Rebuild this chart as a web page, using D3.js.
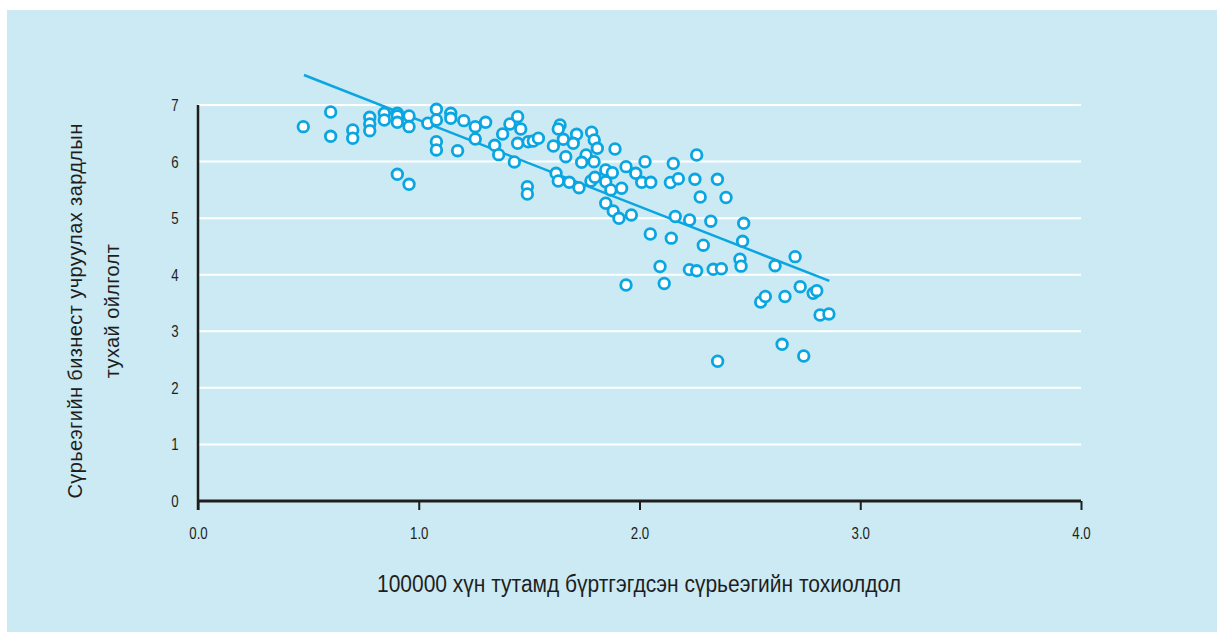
<!DOCTYPE html>
<html>
<head>
<meta charset="utf-8">
<script src="https://cdn.jsdelivr.net/npm/d3@7"></script>
<style>
  body { margin: 0; background: #ffffff; }
  #chart svg { display: block; }
</style>
</head>
<body>
<div id="chart"></div>
<script>
// Scatter values
var casesPer100k = [
    0.477, 0.601, 0.601, 0.701, 0.701, 0.778, 0.778, 0.778, 0.844, 0.844,
    0.903, 0.903, 0.903, 0.956, 0.956, 0.903, 0.956, 1.041, 1.080, 1.080,
    1.080, 1.080, 1.145, 1.145, 1.176, 1.204, 1.256, 1.256, 1.303, 1.344,
    1.362, 1.380, 1.413, 1.448, 1.462, 1.448, 1.433, 1.492, 1.492, 1.496,
    1.519, 1.542, 1.610, 1.640, 1.632, 1.655, 1.715, 1.700, 1.783, 1.795,
    1.809, 1.666, 1.758, 1.738, 1.794, 1.889, 1.622, 1.632, 1.682, 1.726,
    1.780, 1.798, 1.847, 1.877, 1.847, 1.870, 1.919, 1.939, 1.983, 2.010,
    2.051, 2.025, 1.847, 1.881, 1.907, 1.963, 2.049, 1.939, 2.093, 2.112,
    2.144, 2.153, 2.140, 2.176, 2.259, 2.251, 2.353, 2.275, 2.392, 2.162,
    2.227, 2.323, 2.472, 2.467, 2.289, 2.226, 2.259, 2.334, 2.371, 2.455,
    2.460, 2.614, 2.705, 2.549, 2.570, 2.659, 2.728, 2.787, 2.803, 2.818,
    2.858, 2.646, 2.744, 2.354
];
var businessCost = [
    6.617, 6.876, 6.447, 6.558, 6.412, 6.783, 6.664, 6.546, 6.853, 6.735,
    6.853, 6.806, 6.694, 6.806, 6.617, 5.775, 5.598, 6.677, 6.924, 6.735,
    6.351, 6.205, 6.853, 6.765, 6.192, 6.723, 6.617, 6.399, 6.694, 6.288,
    6.122, 6.488, 6.664, 6.793, 6.576, 6.323, 5.993, 5.556, 5.427, 6.351,
    6.364, 6.412, 6.275, 6.647, 6.576, 6.394, 6.482, 6.323, 6.518, 6.382,
    6.235, 6.086, 6.116, 5.987, 5.998, 6.222, 5.793, 5.657, 5.634, 5.538,
    5.657, 5.722, 5.851, 5.803, 5.644, 5.498, 5.528, 5.910, 5.793, 5.634,
    5.634, 5.998, 5.263, 5.126, 4.997, 5.056, 4.720, 3.818, 4.145, 3.845,
    4.646, 5.966, 5.630, 5.697, 6.116, 5.687, 5.687, 5.374, 5.365, 5.029,
    4.967, 4.946, 4.909, 4.591, 4.522, 4.090, 4.069, 4.096, 4.105, 4.273,
    4.151, 4.159, 4.319, 3.518, 3.615, 3.615, 3.788, 3.672, 3.718, 3.288,
    3.306, 2.770, 2.563, 2.470
];

// trend line end points
var trendX = [0.48, 2.86];
var trendY = [7.53, 3.89];

var xTickValues = [0, 1, 2, 3, 4];
var yTickValues = [0, 1, 2, 3, 4, 5, 6, 7];

var xTitle = "100000 хүн тутамд бүртгэгдсэн сүрьеэгийн тохиолдол";
var yTitleLines = ["Сүрьеэгийн бизнест учруулах зардлын", "тухай ойлголт"];

function init() {

    var w = 1217;
    var h = 632;

    var blue = "#0aa6e2";
    var ink = "#1e1e1e";
    var narrow = "'Liberation Sans', Arial, sans-serif";
    var squeeze = 0.78;

    var svg = d3.select("#chart")
        .append("svg")
        .attr("width", w)
        .attr("height", h);

    // panel background
    svg.append("rect")
        .attr("x", 7)
        .attr("y", 10)
        .attr("width", w - 7)
        .attr("height", h - 10)
        .attr("fill", "#cbeaf3");

    var xScale = d3.scaleLinear().domain([0, 4]).range([198, 1081]);
    var yScale = d3.scaleLinear().domain([0, 7]).range([501, 105]);

    // white gridlines
    svg.selectAll("line.grid")
        .data(yTickValues.slice(1))
        .enter()
        .append("line")
        .attr("class", "grid")
        .attr("x1", xScale(0))
        .attr("x2", xScale(4))
        .attr("y1", function (d) { return yScale(d); })
        .attr("y2", function (d) { return yScale(d); })
        .attr("stroke", "#ffffff")
        .attr("stroke-width", 2);

    // x axis
    var xAxis = d3.axisBottom(xScale)
        .tickValues(xTickValues)
        .tickSize(9)
        .tickPadding(17)
        .tickFormat(d3.format(".1f"));

    var gx = svg.append("g")
        .attr("transform", "translate(0," + yScale(0) + ")")
        .call(xAxis);
    gx.select(".domain").attr("stroke", ink).attr("stroke-width", 3)
        .attr("d", "M" + xScale(0) + ",0H" + xScale(4));
    gx.selectAll(".tick line").attr("stroke", ink).attr("stroke-width", 2);
    gx.selectAll(".tick text")
        .attr("fill", ink)
        .attr("transform", "scale(" + squeeze + ",1)")
        .style("font-family", narrow)
        .style("font-size", "17px");

    // y axis
    var yAxis = d3.axisLeft(yScale)
        .tickValues(yTickValues)
        .tickSize(0)
        .tickPadding(24)
        .tickFormat(d3.format("d"));

    var gy = svg.append("g")
        .attr("transform", "translate(" + xScale(0) + ",0)")
        .call(yAxis);
    gy.select(".domain").attr("stroke", ink).attr("stroke-width", 2.5)
        .attr("d", "M0," + yScale(7) + "V" + (yScale(0) + 9));
    gy.selectAll(".tick text")
        .attr("fill", ink)
        .attr("text-anchor", "middle")
        .attr("x", -23 / squeeze)
        .attr("transform", "scale(" + squeeze + ",1)")
        .style("font-family", narrow)
        .style("font-size", "17px");

    // trend line
    svg.append("line")
        .attr("x1", xScale(trendX[0]))
        .attr("y1", yScale(trendY[0]))
        .attr("x2", xScale(trendX[1]))
        .attr("y2", yScale(trendY[1]))
        .attr("stroke", blue)
        .attr("stroke-width", 2.5);

    // points
    svg.selectAll("circle.pt")
        .data(casesPer100k)
        .enter()
        .append("circle")
        .attr("class", "pt")
        .attr("cx", function (d) { return xScale(d); })
        .attr("cy", function (d, i) { return yScale(businessCost[i]); })
        .attr("r", 5.3)
        .attr("fill", "#ffffff")
        .attr("stroke", blue)
        .attr("stroke-width", 2.8);

    // titles
    svg.append("text")
        .attr("x", 639)
        .attr("y", 592)
        .attr("text-anchor", "middle")
        .attr("fill", ink)
        .attr("textLength", 524)
        .attr("lengthAdjust", "spacingAndGlyphs")
        .style("font-family", narrow)
        .style("font-size", "23px")
        .text(xTitle);

    svg.selectAll("text.ytitle")
        .data(yTitleLines)
        .enter()
        .append("text")
        .attr("class", "ytitle")
        .attr("text-anchor", "middle")
        .attr("transform", function (d, i) {
            return "translate(" + (82 + i * 37) + ",311) rotate(-90)";
        })
        .attr("fill", ink)
        .style("font-family", "'Liberation Sans', Arial, sans-serif")
        .style("font-size", "20px")
        .style("letter-spacing", "0.4px")
        .text(function (d) { return d; });
}

window.onload = init;
</script>
</body>
</html>
